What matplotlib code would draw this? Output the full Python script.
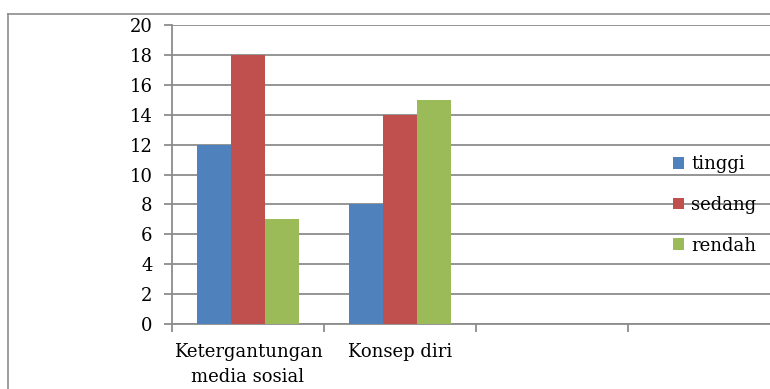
import numpy as np
import matplotlib
matplotlib.use("Agg")
import matplotlib.pyplot as plt
from matplotlib.lines import Line2D
from matplotlib.patches import Patch

categories = ["Ketergantungan\nmedia sosial", "Konsep diri", "", ""]
series_names = ["tinggi", "sedang", "rendah"]
tinggi = [12, 8, np.nan, np.nan]
sedang = [18, 14, np.nan, np.nan]
rendah = [7, 15, np.nan, np.nan]
colors = ["#4F81BD", "#C0504D", "#9BBB59"]
yticks = [0, 2, 4, 6, 8, 10, 12, 14, 16, 18, 20]

plt.rcParams['font.family'] = ['DejaVu Serif']
FS = 13

W, H = 770, 389
fig = plt.figure(figsize=(W / 100, H / 100), dpi=100)
left, right, top, bottom = 172, 780, 25, 324
ax = fig.add_axes([left / W, 1 - bottom / H, (right - left) / W, (bottom - top) / H])

x = np.arange(len(categories))
bw = 0.224
for i, (vals, c) in enumerate(zip([tinggi, sedang, rendah], colors)):
    ax.bar(x + (i - 1) * bw, vals, width=bw, color=c, zorder=3, label=series_names[i])

ax.set_xlim(-0.5, len(categories) - 0.5)
ax.set_ylim(0, 20)
ax.set_yticks(yticks)
ax.set_yticklabels([str(v) for v in yticks], fontsize=FS)
ax.yaxis.grid(True, color="#8C8C8C", linewidth=1.3, zorder=0)
ax.set_axisbelow(True)

ax.set_xticks(np.arange(-0.5, len(categories) + 0.5, 1.0))
ax.set_xticklabels([])
ax.set_xticks(x, minor=True)
ax.set_xticklabels(categories, minor=True, fontsize=FS, linespacing=1.5)
ax.tick_params(axis='x', which='minor', length=0, pad=14)
ax.tick_params(axis='x', which='major', length=6, color="#8C8C8C", width=1.3)
ax.tick_params(axis='y', length=6, color="#8C8C8C", width=1.3, pad=8)

for s in ["top", "right"]:
    ax.spines[s].set_visible(False)
for s in ["left", "bottom"]:
    ax.spines[s].set_color("#8C8C8C")
    ax.spines[s].set_linewidth(1.3)

handles = [Patch(facecolor=c, label=n) for c, n in zip(colors, series_names)]
fig.legend(handles=handles, loc="center left", bbox_to_anchor=(673 / W, 1 - 205 / H),
           frameon=False, fontsize=FS, handlelength=0.6, handleheight=0.6,
           handletextpad=0.4, labelspacing=1.25, borderaxespad=0, borderpad=0)

# outer chart frame
fig.add_artist(Line2D([7.5 / W, 7.5 / W], [0, 1 - 13.5 / H], transform=fig.transFigure,
                      color="#8C8C8C", linewidth=1.2))
fig.add_artist(Line2D([7.5 / W, 1], [1 - 13.5 / H, 1 - 13.5 / H], transform=fig.transFigure,
                      color="#8C8C8C", linewidth=1.2))

fig.savefig("out.png", dpi=100)
